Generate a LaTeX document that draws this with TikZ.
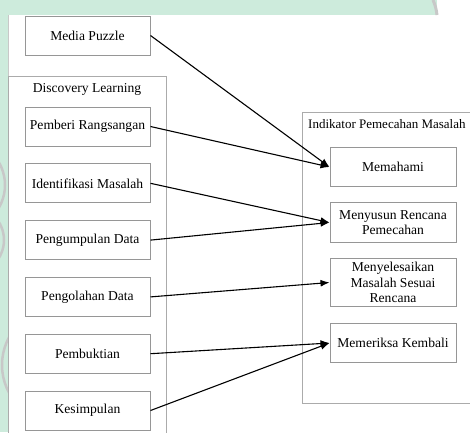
\documentclass[tikz,border=0pt]{standalone}
\usepackage{fontspec}
\setmainfont{Liberation Serif}
\usetikzlibrary{positioning, arrows.meta}
\definecolor{mintwash}{RGB}{205,235,220}
\definecolor{boxgray}{RGB}{150,150,150}
\definecolor{markgray}{RGB}{200,200,200}
\tikzstyle{stage}=[rectangle, draw=boxgray, line width=1pt, minimum width=125pt, minimum height=39pt, align=center, inner sep=1pt]
\tikzstyle{group}=[draw=boxgray!80, line width=1pt]
\tikzstyle{arrow}=[line width=1.1pt, -{Latex[length=9pt, width=7pt]}]

\begin{document}
\begin{tikzpicture}[x=1pt, y=-1pt, node distance=16.8pt, font=\fontsize{13.6pt}{15.5pt}\selectfont]
    	\useasboundingbox (0,0) rectangle (470,432);
    	\clip (0,0) rectangle (470,432);
    	% Background
    	\fill[mintwash] (0,0) rectangle (437,15);
    	\fill[mintwash] (0,0) rectangle (8,432);
    	\draw[markgray, line width=3pt] (433,0) to[bend left=8] (437,15);
    	\begin{scope}
    		\clip (0,15) rectangle (8,432);
    		\draw[markgray, line width=2.5pt] (-40,185) circle (45);
    		\draw[markgray, line width=2.5pt] (-30,240) circle (34);
    		\draw[markgray, line width=2.5pt] (60,365) circle (58);
    	\end{scope}
    	\draw[markgray, line width=0.6pt] (8,15) -- (8,432);

    	% Groups
    	\draw[group] (8,76) rectangle (166,445);
    	\node (discovery) at (87,89) {Discovery Learning};
    	\draw[group] (302,112) rectangle (480,403);
    	\node[anchor=west, inner sep=1pt, font=\fontsize{13pt}{15pt}\selectfont] (indikator) at (307,124) {Indikator Pemecahan Masalah};

    	% Nodes
    	\node[stage] (media) at (87.5,35.5) {Media Puzzle};
    	\node[stage] (pemberi) at (87.5,126.5) {Pemberi Rangsangan};
    	\node[stage, below=of pemberi] (identifikasi) {Identifikasi Masalah};
    	\node[stage, below=of identifikasi] (pengumpulan) {Pengumpulan Data};
    	\node[stage, below=of pengumpulan] (pengolahan) {Pengolahan Data};
    	\node[stage, below=of pengolahan] (pembuktian) {Pembuktian};
    	\node[stage, below=of pembuktian] (kesimpulan) {Kesimpulan};

    	\node[stage, minimum width=126pt] (memahami) at (393,167) {Memahami};
    	\node[stage, minimum width=126pt, minimum height=40pt, below=15pt of memahami] (menyusun) {Menyusun Rencana\\Pemecahan};
    	\node[stage, minimum width=126pt, minimum height=48pt, below=15pt of menyusun] (menyelesaikan) {Menyelesaikan\\Masalah Sesuai\\Rencana};
    	\node[stage, minimum width=126pt, below=16pt of menyelesaikan] (memeriksa) {Memeriksa Kembali};

    	% Arrows
    	\draw[arrow] (media.east) -- (memahami.west);
    	\draw[arrow] (pemberi.east) -- (memahami.west);
    	\draw[arrow] (identifikasi.east) -- (menyusun.west);
    	\draw[arrow] (pengumpulan.east) -- (menyusun.west);
    	\draw[arrow] (pengolahan.east) -- (menyelesaikan.west);
    	\draw[arrow] (pembuktian.east) -- (memeriksa.west);
    	\draw[arrow] (kesimpulan.east) -- (memeriksa.west);
\end{tikzpicture}
\end{document}
